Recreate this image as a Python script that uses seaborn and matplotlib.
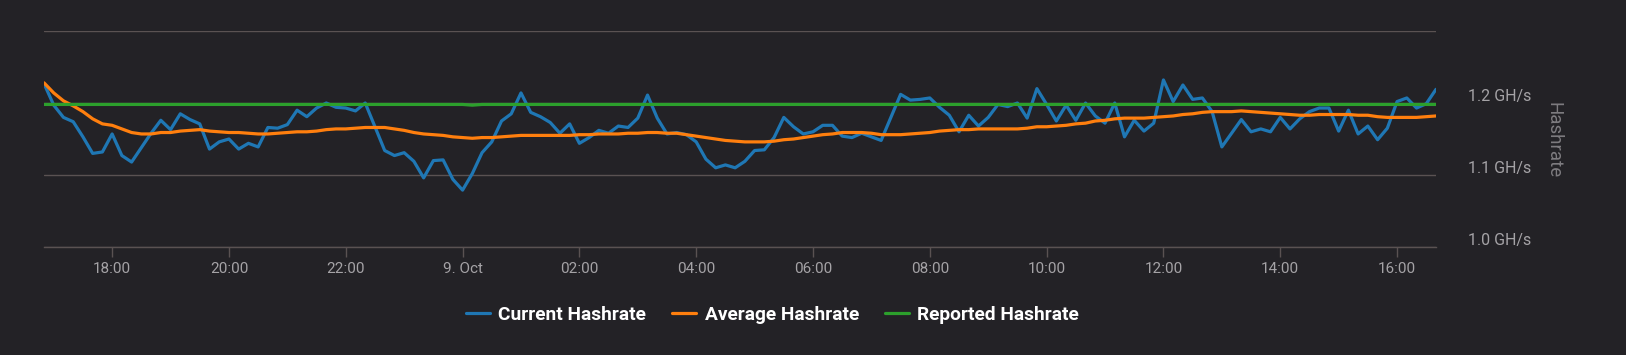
import pandas as pd
import seaborn as sns
import matplotlib.pyplot as plt
import matplotlib.transforms as mtrans
from matplotlib.ticker import FuncFormatter

# 144 pontos a cada 10 minutos (valores em GH/s)
inicio = '2023-10-08 16:50'

current = [
    1.227, 1.197, 1.180, 1.174, 1.153, 1.130, 1.132, 1.157, 1.127, 1.118,
    1.138, 1.158, 1.176, 1.163, 1.185, 1.177, 1.171, 1.136, 1.146, 1.150,
    1.136, 1.144, 1.139, 1.166, 1.165, 1.170, 1.190, 1.181, 1.193, 1.200,
    1.194, 1.193, 1.189, 1.200, 1.167, 1.134, 1.127, 1.131, 1.119, 1.096,
    1.120, 1.121, 1.094, 1.079, 1.102, 1.131, 1.146, 1.175, 1.185, 1.214,
    1.187, 1.181, 1.173, 1.158, 1.171, 1.144, 1.152, 1.162, 1.158, 1.168,
    1.166, 1.179, 1.211, 1.179, 1.157, 1.159, 1.156, 1.146, 1.122, 1.110,
    1.114, 1.110, 1.119, 1.134, 1.135, 1.152, 1.180, 1.167, 1.157, 1.160,
    1.169, 1.169, 1.154, 1.152, 1.158, 1.153, 1.148, 1.180, 1.212, 1.204,
    1.205, 1.207, 1.194, 1.183, 1.160, 1.183, 1.168, 1.180, 1.198, 1.195,
    1.200, 1.179, 1.220, 1.198, 1.175, 1.197, 1.176, 1.200, 1.182, 1.172,
    1.200, 1.153, 1.176, 1.161, 1.172, 1.232, 1.202, 1.225, 1.205, 1.207,
    1.188, 1.139, 1.158, 1.177, 1.160, 1.164, 1.160, 1.180, 1.164, 1.178,
    1.188, 1.193, 1.193, 1.161, 1.190, 1.157, 1.168, 1.149, 1.165, 1.202,
    1.207, 1.193, 1.199, 1.219,
]

average = [
    1.228, 1.214, 1.203, 1.196, 1.188, 1.178, 1.171, 1.169, 1.164, 1.159,
    1.157, 1.157, 1.159, 1.159, 1.161, 1.162, 1.163, 1.161, 1.160, 1.159,
    1.159, 1.158, 1.157, 1.157, 1.158, 1.159, 1.160, 1.160, 1.161, 1.163,
    1.164, 1.164, 1.165, 1.166, 1.166, 1.166, 1.164, 1.162, 1.159, 1.157,
    1.156, 1.155, 1.153, 1.152, 1.151, 1.152, 1.152, 1.153, 1.154, 1.155,
    1.155, 1.155, 1.155, 1.155, 1.155, 1.156, 1.156, 1.157, 1.157, 1.157,
    1.158, 1.158, 1.159, 1.159, 1.158, 1.158, 1.156, 1.154, 1.152, 1.150,
    1.148, 1.147, 1.146, 1.146, 1.146, 1.147, 1.149, 1.150, 1.152, 1.154,
    1.156, 1.157, 1.159, 1.159, 1.159, 1.158, 1.156, 1.156, 1.156, 1.157,
    1.158, 1.159, 1.161, 1.162, 1.163, 1.163, 1.164, 1.164, 1.164, 1.164,
    1.164, 1.165, 1.167, 1.167, 1.168, 1.169, 1.171, 1.172, 1.175, 1.176,
    1.178, 1.179, 1.179, 1.179, 1.180, 1.181, 1.182, 1.184, 1.185, 1.187,
    1.188, 1.188, 1.188, 1.189, 1.188, 1.187, 1.186, 1.185, 1.184, 1.183,
    1.183, 1.184, 1.184, 1.184, 1.184, 1.183, 1.183, 1.181, 1.180, 1.180,
    1.180, 1.180, 1.181, 1.182,
]

reported = [
    1.198, 1.198, 1.198, 1.198, 1.198, 1.198, 1.198, 1.198, 1.198, 1.198, 1.198, 1.198,
    1.198, 1.198, 1.198, 1.198, 1.198, 1.198, 1.198, 1.198, 1.198, 1.198, 1.198, 1.198,
    1.198, 1.198, 1.198, 1.198, 1.198, 1.198, 1.198, 1.198, 1.198, 1.198, 1.198, 1.198,
    1.198, 1.198, 1.198, 1.198, 1.198, 1.198, 1.198, 1.198, 1.197, 1.198, 1.198, 1.198,
    1.198, 1.198, 1.198, 1.198, 1.198, 1.198, 1.198, 1.198, 1.198, 1.198, 1.198, 1.198,
    1.198, 1.198, 1.198, 1.198, 1.198, 1.198, 1.198, 1.198, 1.198, 1.198, 1.198, 1.198,
    1.198, 1.198, 1.198, 1.198, 1.198, 1.198, 1.198, 1.198, 1.198, 1.198, 1.198, 1.198,
    1.198, 1.198, 1.198, 1.198, 1.198, 1.198, 1.198, 1.198, 1.198, 1.198, 1.198, 1.198,
    1.198, 1.198, 1.198, 1.198, 1.198, 1.198, 1.198, 1.198, 1.198, 1.198, 1.198, 1.198,
    1.198, 1.198, 1.198, 1.198, 1.198, 1.198, 1.198, 1.198, 1.198, 1.198, 1.198, 1.198,
    1.198, 1.198, 1.198, 1.198, 1.198, 1.198, 1.198, 1.198, 1.198, 1.198, 1.198, 1.198,
    1.198, 1.198, 1.198, 1.198, 1.198, 1.198, 1.198, 1.198, 1.198, 1.198, 1.198, 1.198,
]

series = ['Current Hashrate', 'Average Hashrate', 'Reported Hashrate']
cores = {'Current Hashrate': '#1f77b4', 'Average Hashrate': '#ff7f0e', 'Reported Hashrate': '#2ca02c'}
y_ticks = [1.0, 1.1, 1.2, 1.3]
y_labels = ['1.0 GH/s', '1.1 GH/s', '1.2 GH/s', '']

sns.set_style('dark')
plt.rcParams['font.family'] = ['Roboto', 'DejaVu Sans']

tempos = pd.date_range(inicio, periods=len(current), freq='10min')
df = pd.DataFrame({'time': tempos, series[0]: current, series[1]: average, series[2]: reported})
df_long = df.melt(id_vars='time', var_name='serie', value_name='hashrate')

fundo = '#232226'
cor_grade = '#5a5252'

fig = plt.figure(figsize=(16.26, 3.55), dpi=100, facecolor=fundo)
ax = fig.add_axes([44 / 1626, 1 - 247 / 355, (1436 - 44) / 1626, (247 - 31) / 355])
ax.set_facecolor(fundo)

sns.lineplot(data=df_long, x='time', y='hashrate', hue='serie', hue_order=series,
             palette=cores, linewidth=2.3, ax=ax, legend=False)

ax.set_xlim(tempos[0], tempos[-1])
ax.set_ylim(1.0, 1.3)

# eixo x: marcas a cada 2 horas, meia-noite mostra a data
marcas = pd.date_range('2023-10-08 18:00', '2023-10-09 16:00', freq='2h')
ax.set_xticks(marcas)

def formata_hora(x, pos):
    d = pd.Timestamp(plt.matplotlib.dates.num2date(x)).tz_localize(None)
    if d.hour == 0:
        return f"{d.day}. {d:%b}"
    return d.strftime('%H:%M')

ax.xaxis.set_major_formatter(FuncFormatter(formata_hora))
ax.tick_params(axis='x', length=7.5, width=1, color=cor_grade, labelcolor='#a5a3a6',
               labelsize=11, pad=3, bottom=True)

# eixo y a direita
ax.yaxis.tick_right()
ax.set_yticks(y_ticks)
ax.set_yticklabels(y_labels)
ax.tick_params(axis='y', length=0, pad=23, labelcolor='#a5a3a6', labelsize=11.5)
deslocamento = mtrans.ScaledTranslation(0, 0.08, fig.dpi_scale_trans)
for lbl in ax.get_yticklabels():
    lbl.set_transform(lbl.get_transform() + deslocamento)
ax.set_ylabel('')
ax.set_xlabel('')
fig.text(1553 / 1626, 1 - 140 / 355, 'Hashrate', rotation=-90, ha='center', va='center',
         color='#7e7c80', fontsize=13.5)

ax.grid(axis='y', color=cor_grade, linewidth=1)
ax.grid(axis='x', visible=False)
ax.set_axisbelow(True)
for lado in ['top', 'left', 'right']:
    ax.spines[lado].set_visible(False)
ax.spines['bottom'].set_color(cor_grade)
ax.spines['bottom'].set_linewidth(1)

fig.legend(ax.lines[:3], series, loc='center', bbox_to_anchor=(0.475, 1 - 315 / 355),
           ncol=3, frameon=False, labelcolor='white', prop={'weight': 'bold', 'size': 13.8},
           handlelength=1.25, handletextpad=0.45, columnspacing=1.35)

plt.savefig('out.png', dpi=100, facecolor=fundo)
